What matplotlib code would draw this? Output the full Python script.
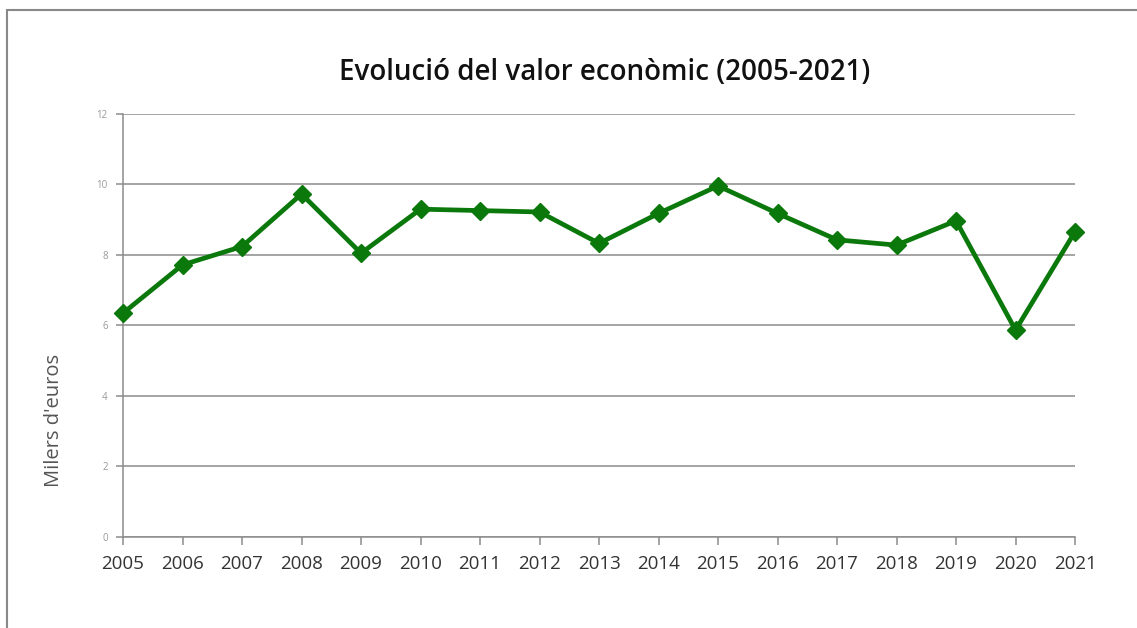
import matplotlib
matplotlib.use("Agg")
import matplotlib.pyplot as plt
from matplotlib.patches import Rectangle

# Data
years = [2005, 2006, 2007, 2008, 2009, 2010, 2011, 2012, 2013,
         2014, 2015, 2016, 2017, 2018, 2019, 2020, 2021]
values = [6.35, 7.72, 8.24, 9.73, 8.05, 9.30, 9.26, 9.22, 8.33,
          9.18, 9.96, 9.18, 8.43, 8.28, 8.97, 5.87, 8.66]
y_ticks = [0, 2, 4, 6, 8, 10, 12]

title = "Evolució del valor econòmic (2005-2021)"
y_label = "Milers d'euros"

plt.rcParams['font.family'] = ['Open Sans', 'DejaVu Sans']

fig = plt.figure(figsize=(11.37, 6.28), dpi=100)
ax = fig.add_axes([0.1082, 0.1449, 0.8373, 0.6736])

# outer frame of the chart
fig.patches.append(Rectangle((7 / 1137, -0.01), 1.05, 1 - 10 / 628 + 0.01,
                             transform=fig.transFigure, fill=False,
                             edgecolor='#888888', linewidth=1.5))

ax.plot(years, values, color='#0b780b', linewidth=3.4, marker='D',
        markersize=9.5, markerfacecolor='#0b780b', markeredgecolor='#0b780b',
        zorder=3, clip_on=False)

ax.set_xlim(years[0], years[-1])
ax.set_ylim(0, 12)
ax.set_xticks(years)
ax.set_yticks(y_ticks)
ax.grid(axis='y', color='#8c8c8c', linewidth=1.1)
ax.set_axisbelow(True)

for side in ['top', 'right']:
    ax.spines[side].set_visible(False)
for side in ['left', 'bottom']:
    ax.spines[side].set_color('#8c8c8c')
    ax.spines[side].set_linewidth(1.1)

ax.tick_params(axis='x', labelsize=13.5, labelcolor='#333333', color='#8c8c8c',
               direction='out', length=6, width=1.1, pad=7)
ax.tick_params(axis='y', labelsize=7, labelcolor='#999999', color='#8c8c8c',
               direction='out', length=5, width=1.1, pad=6)

# y label sits below the axes centre in the reference
fig.text(54 / 1137, 1 - 420 / 628, y_label, rotation=90, ha='center',
         va='center', fontsize=14.5, color='#555555')
fig.text(0.532, 1 - 72 / 628, title, ha='center', va='center', fontsize=20,
         fontweight='semibold', color='#111111')

fig.savefig('out.png', dpi=100, facecolor='white')
